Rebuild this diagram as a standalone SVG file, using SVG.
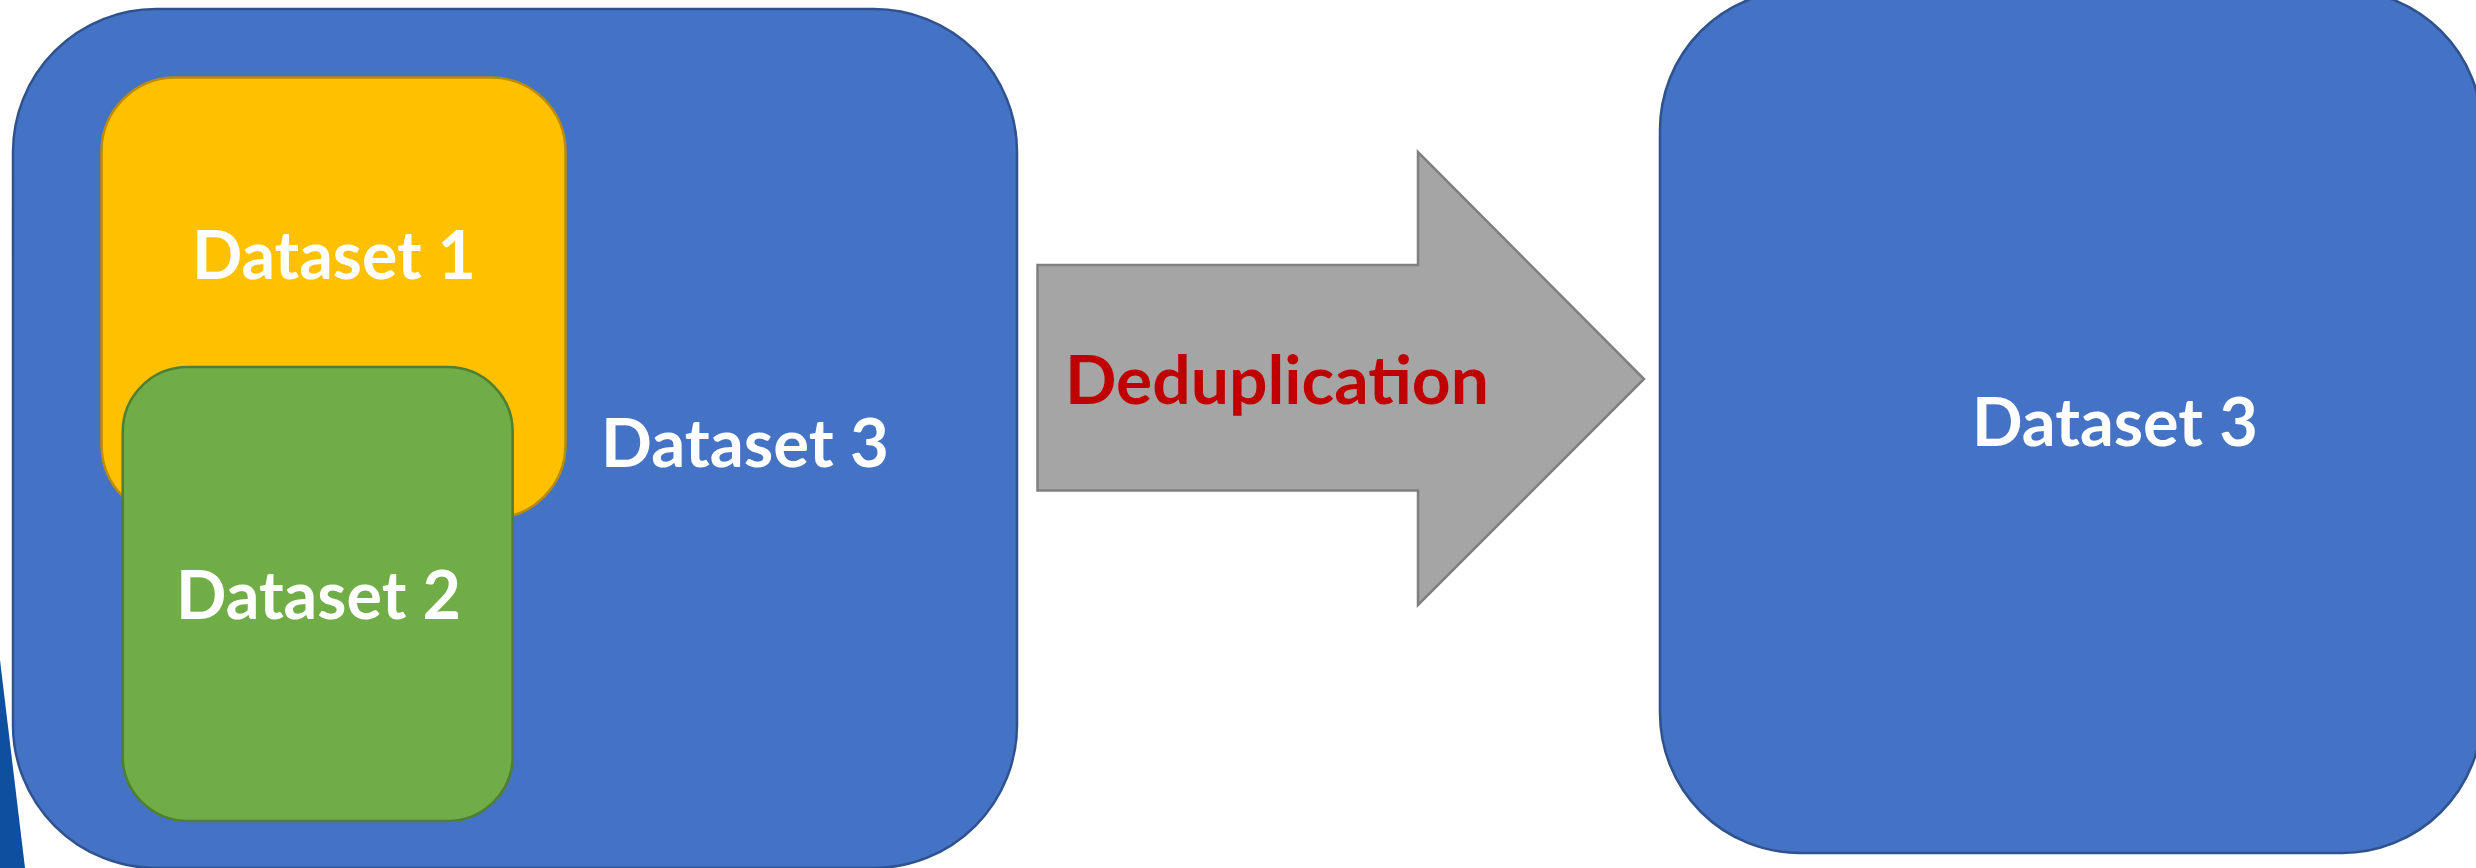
<svg xmlns="http://www.w3.org/2000/svg" width="2476" height="868" viewBox="0 0 2476 868">
<style>
.blue{fill:#4472C4;stroke:#2F528F;stroke-width:2.5}
.yellow{fill:#FFC000;stroke:#BC8C00;stroke-width:2.5}
.green{fill:#70AD47;stroke:#507E32;stroke-width:2.5}
.lbl{font-family:Lato,"Open Sans","Liberation Sans",sans-serif;font-weight:bold;font-size:66px;fill:#FFFFFF}
.red{fill:#C00000}
</style>
<rect width="2476" height="868" fill="#FFFFFF"/>
<polygon points="0,660 25,868 0,868" fill="#0E4FA0"/>
<g id="dataset3-left">
<rect class="blue" x="13" y="9" width="1004" height="859" rx="143" ry="143"/>
<text class="lbl" x="601" y="467" textLength="288" lengthAdjust="spacingAndGlyphs">Dataset 3</text>
</g>
<g id="dataset1">
<rect class="yellow" x="101.5" y="77.5" width="464" height="441" rx="74" ry="74"/>
<text class="lbl" x="192" y="278.5" textLength="284" lengthAdjust="spacingAndGlyphs">Dataset 1</text>
</g>
<g id="dataset2">
<rect class="green" x="122.7" y="367" width="390" height="454" rx="65" ry="65"/>
<text class="lbl" x="176" y="619" textLength="285" lengthAdjust="spacingAndGlyphs">Dataset 2</text>
</g>
<g id="connectors">
<g id="dedup-arrow">
<polygon points="1037.5,265 1418,265 1418,152 1644,379 1418,605 1418,490.5 1037.5,490.5" fill="#A5A5A5" stroke="#7F7F7F" stroke-width="2.5"/>
<text class="lbl red" x="1065" y="403.5" textLength="424" lengthAdjust="spacingAndGlyphs">Deduplication</text>
</g>
</g>
<g id="dataset3-right">
<rect class="blue" x="1660" y="-10" width="822" height="863" rx="140" ry="140"/>
<text class="lbl" x="1972" y="445.7" textLength="286" lengthAdjust="spacingAndGlyphs">Dataset 3</text>
</g>
</svg>
